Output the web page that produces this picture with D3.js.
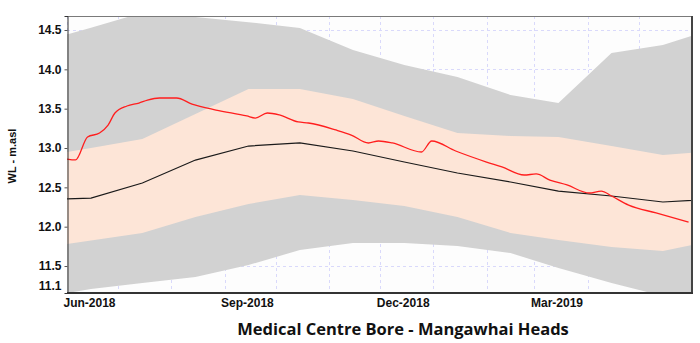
<!DOCTYPE html>
<html>
<head>
<meta charset="utf-8">
<script src="https://cdn.jsdelivr.net/npm/d3@7/dist/d3.min.js"></script>
<style>
  html, body { margin: 0; padding: 0; background: #ffffff; }
  svg { display: block; }
</style>
</head>
<body>
<svg id="chart" width="700" height="343"></svg>
<script>
// Monthly band statistics (mid-month), m above sea level
const bandDates = ["2018-05-15","2018-06-15","2018-07-15","2018-08-15","2018-09-15","2018-10-15",
  "2018-11-15","2018-12-15","2019-01-15","2019-02-15","2019-03-15","2019-04-15","2019-05-15","2019-06-15"];
const outerHigh = [14.34, 14.53, 14.72, 14.665, 14.60, 14.525, 14.246, 14.055, 13.903, 13.674, 13.572, 14.208, 14.309, 14.525];
const innerHigh = [12.886, 13.00, 13.114, 13.432, 13.75, 13.75, 13.623, 13.407, 13.191, 13.153, 13.14, 13.025, 12.911, 12.962];
const median    = [12.339, 12.364, 12.555, 12.847, 13.025, 13.064, 12.962, 12.822, 12.682, 12.568, 12.453, 12.39, 12.314, 12.352];
const innerLow  = [11.729, 11.824, 11.92, 12.123, 12.288, 12.403, 12.339, 12.263, 12.123, 11.92, 11.831, 11.742, 11.691, 11.831];
const outerLow  = [11.093, 11.208, 11.284, 11.36, 11.513, 11.703, 11.792, 11.792, 11.754, 11.665, 11.475, 11.284, 11.119, 11.068];

// Observed water level
const obsDates = ["2018-06-01","2018-06-06","2018-06-13","2018-06-20","2018-06-25","2018-06-29","2018-07-06",
  "2018-07-13","2018-07-18","2018-07-25","2018-08-04","2018-08-13","2018-08-27","2018-09-14","2018-09-19",
  "2018-09-26","2018-10-03","2018-10-14","2018-10-20","2018-11-05","2018-11-14","2018-11-24","2018-11-30",
  "2018-12-08","2018-12-25","2018-12-31","2019-01-14","2019-02-01","2019-02-10","2019-02-23","2019-03-02",
  "2019-03-10","2019-03-20","2019-04-02","2019-04-09","2019-04-15","2019-04-25","2019-05-11","2019-05-30"];
const obsLevel = [12.86, 12.848, 13.14, 13.191, 13.292, 13.445, 13.534,
  13.572, 13.61, 13.636, 13.636, 13.559, 13.483, 13.407, 13.381,
  13.445, 13.42, 13.331, 13.318, 13.229, 13.165, 13.064, 13.089,
  13.064, 12.949, 13.089, 12.962, 12.822, 12.759, 12.657, 12.67,
  12.593, 12.53, 12.428, 12.453, 12.39, 12.275, 12.174, 12.059];

// Axis settings
const xStart = "2018-06-01", xEnd = "2019-06-01";
const xTickDates = ["2018-06-01","2018-09-01","2018-12-01","2019-03-01"];
const xTickLabels = ["Jun-2018","Sep-2018","Dec-2018","Mar-2019"];
const yMin = 11.157, yMax = 14.678;
const yTickValues = [yMin, 11.5, 12.0, 12.5, 13.0, 13.5, 14.0, 14.5];
const yTickLabels = ["11.1", "11.5", "12.0", "12.5", "13.0", "13.5", "14.0", "14.5"];
const gridValues = [11.5, 12.0, 12.5, 13.0, 13.5, 14.0, 14.5];

const titleText = "Medical Centre Bore - Mangawhai Heads";
const yTitle = "WL - m.asl";

const parse = d3.timeParse("%Y-%m-%d");
const svg = d3.select("#chart");

const plot = { left: 67, right: 692, top: 16, bottom: 293 };

const x = d3.scaleTime()
  .domain([parse(xStart), parse(xEnd)])
  .range([plot.left, plot.right]);
const y = d3.scaleLinear()
  .domain([yMin, yMax])
  .range([plot.bottom, plot.top]);

const bands = bandDates.map((d, i) => ({
  date: parse(d), oh: outerHigh[i], ih: innerHigh[i], md: median[i], il: innerLow[i], ol: outerLow[i]
}));
const obs = obsDates.map((d, i) => ({ date: parse(d), v: obsLevel[i] }));

svg.append("defs").append("clipPath").attr("id", "plotClip")
  .append("rect")
  .attr("x", plot.left).attr("y", plot.top)
  .attr("width", plot.right - plot.left).attr("height", plot.bottom - plot.top);

// Plot background
svg.append("rect")
  .attr("x", plot.left).attr("y", plot.top)
  .attr("width", plot.right - plot.left).attr("height", plot.bottom - plot.top)
  .attr("fill", "#fdfdfd");

// Dashed grid
const grid = svg.append("g").attr("clip-path", "url(#plotClip)")
  .attr("stroke", "#d9d9fb").attr("stroke-width", 1).attr("stroke-dasharray", "3,3");
grid.selectAll("line.h").data(gridValues).join("line")
  .attr("x1", plot.left).attr("x2", plot.right)
  .attr("y1", d => Math.round(y(d)) + 0.5).attr("y2", d => Math.round(y(d)) + 0.5);
grid.selectAll("line.v").data(x.ticks(d3.timeMonth.every(1))).join("line")
  .attr("x1", d => Math.round(x(d)) + 0.5).attr("x2", d => Math.round(x(d)) + 0.5)
  .attr("y1", plot.top).attr("y2", plot.bottom);

const layer = svg.append("g").attr("clip-path", "url(#plotClip)");

const area = (lo, hi) => d3.area()
  .x(d => x(d.date))
  .y0(d => y(d[lo]))
  .y1(d => y(d[hi]));

layer.append("path").datum(bands).attr("d", area("ol", "oh")).attr("fill", "#d2d2d2");
layer.append("path").datum(bands).attr("d", area("il", "ih")).attr("fill", "#fde5d7");

layer.append("path").datum(bands)
  .attr("d", d3.line().x(d => x(d.date)).y(d => y(d.md)))
  .attr("fill", "none").attr("stroke", "#1a1a1a").attr("stroke-width", 1.2);

layer.append("path").datum(obs)
  .attr("d", d3.line().x(d => x(d.date)).y(d => y(d.v)).curve(d3.curveMonotoneX))
  .attr("fill", "none").attr("stroke", "#ff1e1e").attr("stroke-width", 1.3);

// Frame
svg.append("line").attr("x1", plot.left).attr("x2", plot.right).attr("y1", plot.top + 0.5).attr("y2", plot.top + 0.5)
  .attr("stroke", "#7a7a7a");
svg.append("line").attr("x1", plot.right).attr("x2", plot.right).attr("y1", plot.top).attr("y2", plot.bottom + 1)
  .attr("stroke", "#444").attr("stroke-width", 2);
svg.append("line").attr("x1", plot.left).attr("x2", plot.right + 1).attr("y1", plot.bottom).attr("y2", plot.bottom)
  .attr("stroke", "#333").attr("stroke-width", 2);

// Y axis
const yAxis = d3.axisLeft(y)
  .tickValues(yTickValues)
  .tickFormat((d, i) => yTickLabels[i])
  .tickSize(3).tickPadding(3);
const gy = svg.append("g").attr("transform", `translate(${plot.left + 0.5},0)`).call(yAxis);
gy.select(".domain").attr("stroke", "#333");
gy.selectAll(".tick line").attr("stroke", "#555");
gy.selectAll(".tick text")
  .attr("font-family", "'Liberation Sans', Arial, sans-serif")
  .attr("font-size", 12).attr("font-weight", "bold").attr("fill", "#111");
gy.selectAll(".tick").filter(d => d === yMin).select("text").attr("dy", "-0.28em");
gy.selectAll(".tick").filter(d => d === yMin).select("line").remove();

// X axis
const xAxis = d3.axisBottom(x)
  .tickValues(xTickDates.map(parse))
  .tickFormat((d, i) => xTickLabels[i])
  .tickSize(0).tickPadding(5);
const gx = svg.append("g").attr("transform", `translate(0,${plot.bottom})`).call(xAxis);
gx.select(".domain").remove();
gx.selectAll(".tick text")
  .attr("text-anchor", "start").attr("dx", -4)
  .attr("font-family", "'Liberation Sans', Arial, sans-serif")
  .attr("font-size", 12).attr("font-weight", "bold").attr("fill", "#111");

// Axis title
svg.append("text")
  .attr("transform", "translate(16,156) rotate(-90)")
  .attr("text-anchor", "middle")
  .attr("font-family", "'Liberation Sans', Arial, sans-serif")
  .attr("font-size", 11).attr("font-weight", "bold").attr("fill", "#111")
  .text(yTitle);

// Chart title
svg.append("text")
  .attr("x", 403).attr("y", 335)
  .attr("text-anchor", "middle")
  .attr("font-family", "'Open Sans', 'DejaVu Sans', sans-serif")
  .attr("font-size", 16.5).attr("font-weight", 700).attr("fill", "#111")
  .text(titleText);
</script>
</body>
</html>
